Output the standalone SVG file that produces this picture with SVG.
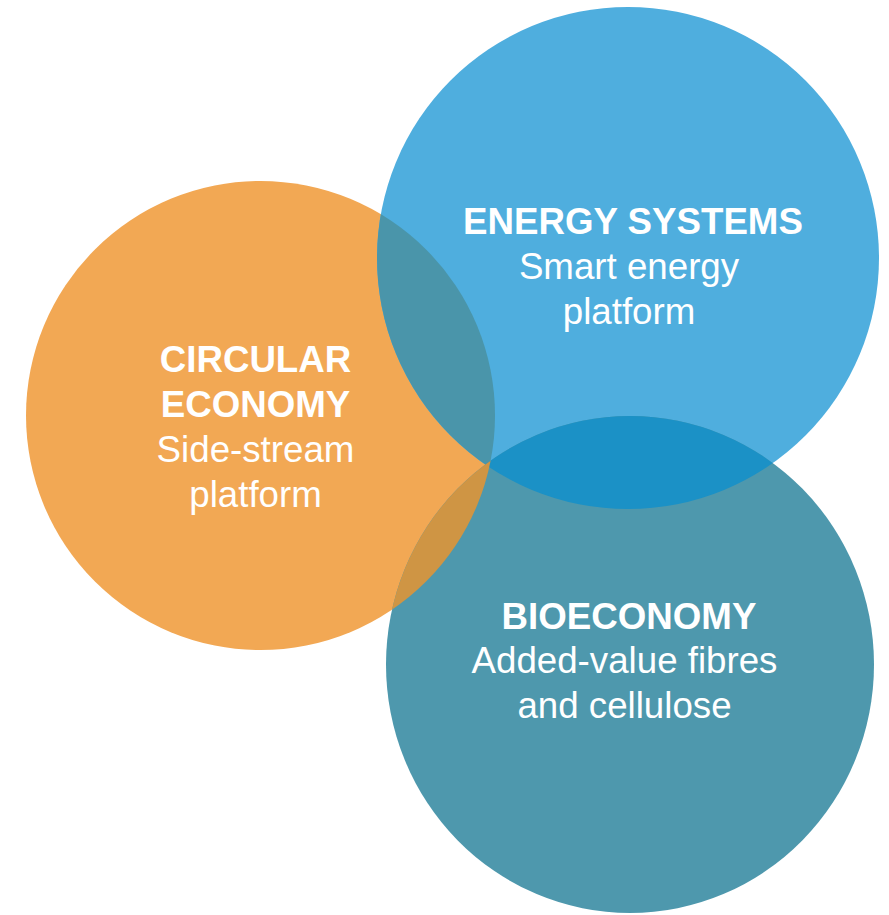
<svg xmlns="http://www.w3.org/2000/svg" width="889" height="915" viewBox="0 0 889 915">
  <style>
    text { font-family: "Liberation Sans", Arial, sans-serif; fill: #FFFFFF; text-anchor: middle; font-size: 36.7px; }
    .t { font-weight: bold; }
  </style>
  <defs>
    <clipPath id="clipOrange"><circle cx="260.5" cy="415.5" r="234.5"/></clipPath>
    <clipPath id="clipBlue"><circle cx="628" cy="258" r="251"/></clipPath>
    <clipPath id="clipTeal"><ellipse cx="630" cy="664.5" rx="244" ry="248.5"/></clipPath>
  </defs>
  <rect width="889" height="915" fill="#FFFFFF"/>

  <g id="circular-economy">
    <circle cx="260.5" cy="415.5" r="234.5" fill="#F2A854"/>
    <text x="255.5" y="371.5" class="t">CIRCULAR</text>
    <text x="255.5" y="416.5" class="t">ECONOMY</text>
    <text x="255.5" y="462">Side-stream</text>
    <text x="255.5" y="506.5">platform</text>
  </g>

  <g id="energy-systems">
    <circle cx="628" cy="258" r="251" fill="#4FAEDE"/>
    <text x="633" y="234" class="t">ENERGY SYSTEMS</text>
    <text x="629" y="279">Smart energy</text>
    <text x="629" y="323.5">platform</text>
  </g>

  <g id="bioeconomy">
    <ellipse cx="630" cy="664.5" rx="244" ry="248.5" fill="#4E98AD"/>
    <text x="629" y="628.5" class="t">BIOECONOMY</text>
    <text x="624.5" y="673">Added-value fibres</text>
    <text x="624.5" y="718">and cellulose</text>
  </g>

  <g id="overlaps">
    <circle cx="628" cy="258" r="251" fill="#4A95AA" clip-path="url(#clipOrange)"/>
    <g clip-path="url(#clipTeal)">
      <circle cx="628" cy="258" r="251" fill="#1B91C6"/>
      <circle cx="260.5" cy="415.5" r="234.5" fill="#CF9544"/>
    </g>
  </g>
</svg>
